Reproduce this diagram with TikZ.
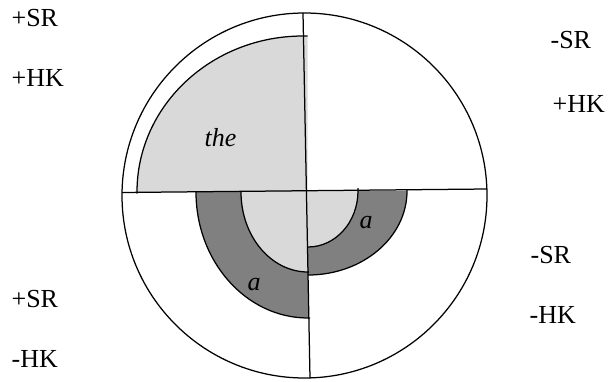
\documentclass[tikz,border=0pt]{standalone}
\usepackage{fontspec}
\setmainfont{Liberation Serif}
\definecolor{lightgr}{RGB}{217,217,217}
\definecolor{darkgr}{RGB}{128,128,128}
\begin{document}
\begin{tikzpicture}[x=1pt,y=1pt,line width=1.25pt,
  lbl/.style={font=\fontsize{26}{30}\selectfont, inner sep=0pt, anchor=base west},
  ital/.style={font=\fontsize{26}{30}\selectfont\itshape, inner sep=0pt, anchor=base west}]
\useasboundingbox (0,0) rectangle (608,381);
% fills
\fill[lightgr] (137,189) arc[start angle=180,end angle=90,x radius=166,y radius=156] -- (307.5,345) -- (307.5,189.5) -- cycle;
\fill[darkgr] (196,189) arc[start angle=180,end angle=270,x radius=112,y radius=126] -- (308.8,63) -- (306.4,189.5) -- cycle;
\fill[lightgr] (241,189) arc[start angle=180,end angle=270,x radius=67,y radius=80] -- (307.9,109) -- (306.4,189.5) -- cycle;
\fill[darkgr] (407,190) arc[start angle=0,end angle=-90,x radius=99,y radius=84] -- (308,106) -- (306.4,190.5) -- cycle;
\fill[lightgr] (358,190) arc[start angle=0,end angle=-90,x radius=50,y radius=56] -- (307.5,134) -- (306.4,190.5) -- cycle;
% arcs
\draw (137,187.5) -- (137,189) arc[start angle=180,end angle=90,x radius=166,y radius=156] -- (307.5,345);
\draw (196,189) arc[start angle=180,end angle=270,x radius=112,y radius=126] -- (310,63);
\draw (241,189) arc[start angle=180,end angle=270,x radius=67,y radius=80] -- (309,109);
\draw (407,192) -- (407,190) arc[start angle=0,end angle=-90,x radius=99,y radius=84];
\draw (358,193) -- (358,190) arc[start angle=0,end angle=-90,x radius=50,y radius=56];
% main lines
\draw (304.5,185.5) circle[radius=182.5];
\draw (122,188.5) -- (487,192);
\draw (303,368) -- (310,3);
% labels
\node[lbl] (tl1) at (11,354) {+SR};
\node[lbl] (tl2) at (11,294) {+HK};
\node[lbl] (tr1) at (550,332) {-SR};
\node[lbl] (tr2) at (552,269) {+HK};
\node[lbl] (bl1) at (11,74) {+SR};
\node[lbl] (bl2) at (11,14) {-HK};
\node[lbl] (br1) at (530,118) {-SR};
\node[lbl] (br2) at (529,58) {-HK};
\node[ital] (the) at (204,234) {the};
\node[ital] (a1) at (247,90.5) {a};
\node[ital] (a2) at (359,153) {a};
\end{tikzpicture}
\end{document}
